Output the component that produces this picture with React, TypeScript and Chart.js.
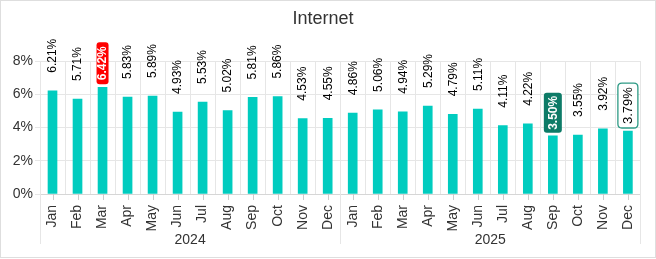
import React, { useEffect, useRef } from "react";
import { Chart, registerables } from "chart.js";

Chart.register(...registerables);

const TITLE = "Internet";
const MONTHS = ["Jan", "Feb", "Mar", "Apr", "May", "Jun", "Jul", "Aug", "Sep", "Oct", "Nov", "Dec"];
const YEARS = ["2024", "2025"];
const VALUES_2024 = [6.21, 5.71, 6.42, 5.83, 5.89, 4.93, 5.53, 5.02, 5.81, 5.86, 4.53, 4.55];
const VALUES_2025 = [4.86, 5.06, 4.94, 5.29, 4.79, 5.11, 4.11, 4.22, 3.5, 3.55, 3.92, 3.79];
const Y_MIN = 0;
const Y_MAX = 8;
const Y_STEP = 2;
// index in the combined series -> highlight style
const HIGHLIGHTS: Record<number, string> = { 2: "red", 20: "green", 23: "outline" };

const FONT = '"Liberation Sans", Arial, Helvetica, sans-serif';
const BAR_COLOR = "#00ccbf";
const GRID = "#e6e6e6";
const TEXT = "#333333";

const categories = YEARS.flatMap(() => MONTHS);
const values = [...VALUES_2024, ...VALUES_2025];

function roundRect(ctx: CanvasRenderingContext2D, x: number, y: number, w: number, h: number, r: number) {
  ctx.beginPath();
  ctx.moveTo(x + r, y);
  ctx.lineTo(x + w - r, y);
  ctx.quadraticCurveTo(x + w, y, x + w, y + r);
  ctx.lineTo(x + w, y + h - r);
  ctx.quadraticCurveTo(x + w, y + h, x + w - r, y + h);
  ctx.lineTo(x + r, y + h);
  ctx.quadraticCurveTo(x, y + h, x, y + h - r);
  ctx.lineTo(x, y + r);
  ctx.quadraticCurveTo(x, y, x + r, y);
  ctx.closePath();
}

const decorPlugin = {
  id: "decor",
  beforeDraw(chart: any) {
    const ctx = chart.ctx as CanvasRenderingContext2D;
    ctx.save();
    ctx.fillStyle = "#ffffff";
    ctx.fillRect(0, 0, chart.width, chart.height);
    ctx.strokeStyle = "#dedede";
    ctx.lineWidth = 1;
    ctx.strokeRect(0.5, 0.5, chart.width - 1, chart.height - 2);
    ctx.restore();
  },
  afterDraw(chart: any) {
    const ctx = chart.ctx as CanvasRenderingContext2D;
    const xs = chart.scales.x;
    const area = chart.chartArea;
    ctx.save();

    // title
    ctx.font = `18px ${FONT}`;
    ctx.fillStyle = TEXT;
    ctx.textAlign = "center";
    ctx.textBaseline = "alphabetic";
    ctx.fillText(TITLE, 323, 24);

    // tick marks at category centres
    ctx.strokeStyle = "#cccccc";
    ctx.lineWidth = 1;
    for (let i = 0; i < categories.length; i++) {
      const px = Math.round(xs.getPixelForValue(i)) + 0.5;
      ctx.beginPath();
      ctx.moveTo(px, area.bottom);
      ctx.lineTo(px, area.bottom + 6);
      ctx.stroke();
    }

    // group separators and year labels
    const step = xs.getPixelForValue(1) - xs.getPixelForValue(0);
    const bounds: number[] = [xs.getPixelForValue(0) - step / 2];
    YEARS.forEach((_, g) => {
      bounds.push(xs.getPixelForValue(g * MONTHS.length + MONTHS.length - 1) + step / 2);
    });
    ctx.strokeStyle = GRID;
    bounds.forEach((b) => {
      const px = Math.round(b) + 0.5;
      ctx.beginPath();
      ctx.moveTo(px, area.bottom);
      ctx.lineTo(px, area.bottom + 50);
      ctx.stroke();
    });
    ctx.font = `14px ${FONT}`;
    ctx.fillStyle = TEXT;
    ctx.textAlign = "center";
    ctx.textBaseline = "middle";
    YEARS.forEach((y, g) => {
      const a = xs.getPixelForValue(g * MONTHS.length);
      const b = xs.getPixelForValue(g * MONTHS.length + MONTHS.length - 1);
      ctx.fillText(y, (a + b) / 2, area.bottom + 46);
    });

    // data labels
    const meta = chart.getDatasetMeta(0);
    meta.data.forEach((el: any, i: number) => {
      const text = values[i].toFixed(2) + "%";
      const hl = HIGHLIGHTS[i];
      ctx.save();
      if (!hl) {
        ctx.translate(el.x, el.y - 18);
        ctx.rotate(-Math.PI / 2);
        ctx.font = `12px ${FONT}`;
        ctx.fillStyle = "#000000";
        ctx.textAlign = "left";
        ctx.textBaseline = "middle";
        ctx.fillText(text, 0, 0.5);
      } else {
        let font = `bold 12px ${FONT}`;
        let padX = 4;
        let thick = 12;
        let fill = "#ff0000";
        let color = "#ffffff";
        let stroke: string | null = null;
        let radius = 3;
        if (hl === "green") {
          padX = 3;
          thick = 18;
          fill = "#0d7b67";
          radius = 3;
        } else if (hl === "outline") {
          font = `13px ${FONT}`;
          padX = 4;
          thick = 20;
          fill = "#ffffff";
          color = "#000000";
          stroke = "#2e9a85";
          radius = 4;
        }
        ctx.font = font;
        const w = ctx.measureText(text).width;
        const len = w + padX * 2;
        ctx.translate(el.x, el.y - 3);
        ctx.rotate(-Math.PI / 2);
        roundRect(ctx, 0, -thick / 2, len, thick, radius);
        ctx.fillStyle = fill;
        ctx.fill();
        if (stroke) {
          ctx.strokeStyle = stroke;
          ctx.lineWidth = 1.3;
          ctx.stroke();
        }
        ctx.fillStyle = color;
        ctx.textAlign = "left";
        ctx.textBaseline = "middle";
        ctx.fillText(text, padX, 0.5);
      }
      ctx.restore();
    });

    ctx.restore();
  },
};

export default function App() {
  const ref = useRef<HTMLCanvasElement | null>(null);

  useEffect(() => {
    document.body.style.margin = "0";
    const canvas = ref.current;
    if (!canvas) return;
    const chart = new Chart(canvas, {
      type: "bar",
      data: {
        labels: categories,
        datasets: [
          {
            data: values,
            backgroundColor: BAR_COLOR,
            borderWidth: 0,
            barThickness: 9,
          },
        ],
      },
      options: {
        animation: false,
        responsive: false,
        devicePixelRatio: 1,
        layout: { padding: { top: 61, right: 15, left: 0, bottom: 0 } },
        plugins: {
          legend: { display: false },
          title: { display: false },
          tooltip: { enabled: false },
        },
        scales: {
          x: {
            type: "category",
            offset: true,
            grid: { display: true, offset: true, color: GRID, drawTicks: false },
            border: { display: true, color: "#d6d6d6" },
            ticks: {
              autoSkip: false,
              maxRotation: 90,
              minRotation: 90,
              padding: 11,
              color: TEXT,
              font: { size: 14, family: FONT },
            },
            afterFit(scale: any) {
              scale.height = 65;
            },
          },
          y: {
            min: Y_MIN,
            max: Y_MAX,
            grid: { color: GRID, drawTicks: true, tickLength: 5 },
            border: { display: false },
            ticks: {
              stepSize: Y_STEP,
              padding: 2,
              color: TEXT,
              font: { size: 14, family: FONT },
              callback: (v: any) => `${v}%`,
            },
            afterFit(scale: any) {
              scale.width = 40;
            },
          },
        },
      },
      plugins: [decorPlugin],
    });
    return () => chart.destroy();
  }, []);

  return (
    <div style={{ width: 656, height: 259 }}>
      <canvas ref={ref} width={656} height={259} style={{ display: "block" }} />
    </div>
  );
}
